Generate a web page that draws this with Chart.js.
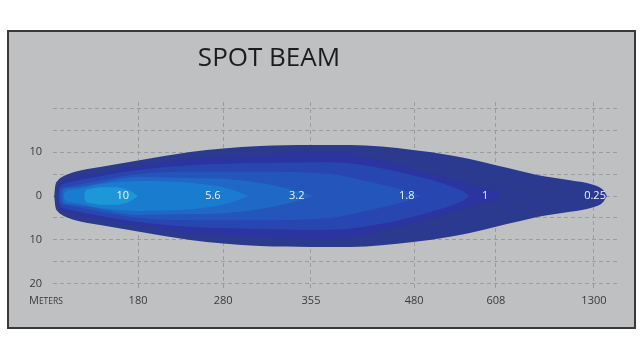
<!DOCTYPE html>
<html>
<head>
<meta charset="utf-8">
<script src="https://cdn.jsdelivr.net/npm/chart.js@4"></script>
<style>
  html, body { margin: 0; background: #fff; }
  #wrap { width: 640px; height: 360px; }
</style>
</head>
<body>
<div id="wrap"><canvas id="beamChart" width="640" height="360"></canvas></div>
<script>
// x runs 0..100 across the plot (relative throw), y is the beam spread
const xTickPos = [15, 30, 45.5, 63.7, 78.1, 95.4];
const xTickLabels = ['180', '280', '355', '480', '608', '1300'];
const yTickPos = [20, 15, 10, 5, 0, -5, -10, -15, -20];
const yTickLabels = ['', '', '10', '', '0', '', '10', '', '20'];

// contour outlines (x position, half width), outermost first
const zone025X = [0.2, 0.4, 0.9, 1.6, 3.9, 8.3, 15, 24.2, 30, 36.5, 45.5, 52.4, 63.5, 70, 73.5, 78.1, 82.4, 85.4, 91.2, 95.4, 97, 97.7];
const zone025H = [0, 2.3, 3.6, 4.3, 5.5, 6.6, 8.1, 10.0, 10.8, 11.4, 11.6, 11.6, 10.5, 9.3, 8.4, 7.0, 5.7, 4.8, 3.6, 2.5, 1.4, 0];
const zone1X = [0.7, 0.9, 1.6, 3.9, 8.3, 15, 24.2, 36.5, 48.9, 63.7, 70, 75.3, 78.3, 79];
const zone1H = [0, 2.0, 3.2, 4.1, 5.2, 6.8, 8.4, 9.3, 9.8, 6.1, 3.9, 1.8, 0.7, 0];
const zoneMidX = [0.9, 1.1, 1.8, 3.9, 8.3, 15, 24.2, 36.5, 48.9, 57.7, 64.7, 70, 72.8, 73.5];
const zoneMidH = [0, 1.8, 2.7, 3.4, 4.5, 5.9, 7.0, 7.5, 7.7, 6.4, 4.3, 2.3, 0.7, 0];
const zone18X = [1.2, 1.4, 2.1, 4.8, 8.3, 15, 24.2, 36.5, 48.9, 55.9, 61.2, 63.8, 64.9];
const zone18H = [0, 1.6, 2.0, 2.7, 3.6, 5.0, 5.5, 5.5, 5.0, 3.2, 1.6, 0.5, 0];
const zone32X = [1.6, 1.8, 2.6, 6.5, 15, 24.2, 30, 36.5, 41.8, 44.4, 45.9];
const zone32H = [0, 1.4, 1.8, 2.5, 4.3, 4.1, 3.9, 3.0, 1.6, 0.7, 0];
const zone56X = [1.9, 2.1, 3.4, 8.3, 15, 22.4, 27.7, 31.6, 33.5, 34.4];
const zone56H = [0, 0.9, 1.4, 2.7, 3.4, 3.2, 2.5, 1.4, 0.5, 0];
const zone10X = [5.5, 5.6, 6.5, 8.3, 10.9, 13.2, 15];
const zone10H = [0, 0.9, 1.6, 2.0, 2.0, 1.4, 0];

const zoneColors = ['#2b3a8e', '#2b34a0', '#2846b0', '#2455bb', '#1f68c6', '#1a7ccf', '#1e97d8'];

// lux values printed along the centre line
const beamLabels = ['10', '5.6', '3.2', '1.8', '1', '0.25'];
const beamLabelX = [12.3, 28.2, 43.0, 62.4, 76.2, 95.6];

const zones = [
    [zone025X, zone025H], [zone1X, zone1H], [zoneMidX, zoneMidH], [zone18X, zone18H],
    [zone32X, zone32H], [zone56X, zone56H], [zone10X, zone10H]
];

// innermost first so it is drawn on top
const datasets = [];
for (let i = zones.length - 1; i >= 0; i--) {
    const xs = zones[i][0], hs = zones[i][1];
    const base = { borderWidth: 0, pointRadius: 0, cubicInterpolationMode: 'monotone' };
    datasets.push(Object.assign({}, base, {
        data: xs.map((x, k) => ({ x: x, y: hs[k] })),
        fill: '+1',
        backgroundColor: zoneColors[i]
    }));
    datasets.push(Object.assign({}, base, {
        data: xs.map((x, k) => ({ x: x, y: -hs[k] })),
        fill: false
    }));
}

const panelPlugin = {
    id: 'panel',
    beforeDraw(chart) {
        const ctx = chart.ctx;
        ctx.save();
        ctx.fillStyle = '#ffffff';
        ctx.fillRect(0, 0, chart.width, chart.height);
        ctx.fillStyle = '#bfc0c2';
        ctx.fillRect(8, 31, 627, 297);
        ctx.strokeStyle = '#3a3a3a';
        ctx.lineWidth = 2;
        ctx.strokeRect(8, 31, 627, 297);
        ctx.restore();
    },
    afterDatasetsDraw(chart) {
        const ctx = chart.ctx;
        const xs = chart.scales.x, ys = chart.scales.y;
        ctx.save();
        ctx.fillStyle = '#eef3ff';
        ctx.font = '11px "Open Sans"';
        ctx.textAlign = 'center';
        ctx.textBaseline = 'middle';
        beamLabels.forEach((t, i) => {
            ctx.fillText(t, xs.getPixelForValue(beamLabelX[i]), ys.getPixelForValue(0));
        });
        ctx.restore();
    },
    afterDraw(chart) {
        const ctx = chart.ctx;
        ctx.save();
        ctx.fillStyle = '#1c1c1c';
        ctx.font = '26px "Open Sans"';
        ctx.textAlign = 'center';
        ctx.textBaseline = 'middle';
        ctx.fillText('SPOT BEAM', 269, 59);
        // small caps "Meters" under the y labels
        ctx.fillStyle = '#3a3a3a';
        ctx.textAlign = 'left';
        ctx.textBaseline = 'alphabetic';
        ctx.font = '11px "Open Sans"';
        ctx.fillText('M', 29, 304);
        const w = ctx.measureText('M').width;
        ctx.font = '8.5px "Open Sans"';
        ctx.fillText('ETERS', 29 + w, 304);
        ctx.restore();
    }
};

new Chart(document.getElementById('beamChart'), {
    type: 'line',
    data: { datasets: datasets },
    options: {
        responsive: false,
        animation: false,
        layout: { padding: { left: 10, right: 20, top: 102, bottom: 50 } },
        plugins: {
            legend: { display: false },
            tooltip: { enabled: false },
            title: { display: false }
        },
        scales: {
            x: {
                type: 'linear',
                min: 0,
                max: 100,
                afterBuildTicks: s => { s.ticks = xTickPos.map(v => ({ value: v })); },
                afterFit: s => { s.height = 20; },
                grid: { color: '#9a9b9e', lineWidth: 1, drawTicks: false },
                border: { display: false, dash: [4, 3] },
                ticks: {
                    padding: 4,
                    color: '#3a3a3a',
                    font: { family: 'Open Sans', size: 11 },
                    maxRotation: 0,
                    callback: (v, i) => xTickLabels[i]
                }
            },
            y: {
                min: -21.4,
                max: 21.4,
                afterBuildTicks: s => { s.ticks = yTickPos.map(v => ({ value: v })); },
                afterFit: s => { s.width = 43; },
                grid: { color: '#9a9b9e', lineWidth: 1, drawTicks: false },
                border: { display: false, dash: [4, 3] },
                ticks: {
                    padding: 11,
                    color: '#3a3a3a',
                    font: { family: 'Open Sans', size: 11 },
                    callback: (v, i) => yTickLabels[i]
                }
            }
        }
    },
    plugins: [panelPlugin]
});
</script>
</body>
</html>
